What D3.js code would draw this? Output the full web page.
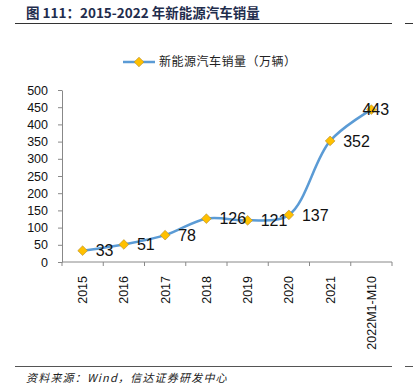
<!DOCTYPE html>
<html>
<head>
<meta charset="utf-8">
<script src="https://cdn.jsdelivr.net/npm/d3@7"></script>
<style>
  body { margin: 0; background: #fff; }
  svg text { font-family: "Liberation Sans", Arial, sans-serif; }
  .cjk { font-family: "Noto Sans CJK SC", sans-serif; }
  .y-axis path, .y-axis line, .x-axis path, .x-axis line { stroke: #888; }
</style>
</head>
<body>
<div id="chart"></div>
<script>
// data
const years = ["2015", "2016", "2017", "2018", "2019", "2020", "2021", "2022M1-M10"];
const sales = [33, 51, 78, 126, 121, 137, 352, 443];
const yTicks = [0, 50, 100, 150, 200, 250, 300, 350, 400, 450, 500];
const labelShift = [0, 0, 0, 0, 0, 0, 0, -22]; // last label pushed back inside the frame

const data = years.map((y, i) => ({year: y, value: sales[i], shift: labelShift[i]}));

const W = 413, H = 392;
const margin = {top: 90, right: 21, bottom: 130, left: 62},
    width = W - margin.left - margin.right,
    height = H - margin.top - margin.bottom;

const svgRoot = d3.select("#chart")
  .append("svg")
    .attr("width", W)
    .attr("height", H);

// title + rules
svgRoot.append("text")
    .attr("class", "cjk")
    .attr("x", 26)
    .attr("y", 18)
    .attr("font-size", 13.5)
    .attr("font-weight", "bold")
    .attr("fill", "#1f2d4d")
    .attr("xml:space", "preserve")
    .text("图 111：2015-2022 年新能源汽车销量");

svgRoot.append("line").attr("x1", 15).attr("x2", 392).attr("y1", 23.5).attr("y2", 23.5)
    .attr("stroke", "#333").attr("stroke-width", 1);
svgRoot.append("line").attr("x1", 405).attr("x2", 413).attr("y1", 23.5).attr("y2", 23.5)
    .attr("stroke", "#333").attr("stroke-width", 1);
svgRoot.append("line").attr("x1", 15).attr("x2", 392).attr("y1", 366.5).attr("y2", 366.5)
    .attr("stroke", "#555").attr("stroke-width", 1);
svgRoot.append("line").attr("x1", 405).attr("x2", 413).attr("y1", 366.5).attr("y2", 366.5)
    .attr("stroke", "#555").attr("stroke-width", 1);

svgRoot.append("text")
    .attr("class", "cjk")
    .attr("x", 26)
    .attr("y", 382)
    .attr("font-size", 11)
    .attr("font-style", "italic")
    .attr("letter-spacing", 1.2)
    .attr("fill", "#222")
    .text("资料来源：Wind，信达证券研发中心");

const svg = svgRoot.append("g")
    .attr("transform", `translate(${margin.left},${margin.top})`);

// scales
const x = d3.scaleBand()
  .domain(years)
  .range([0, width])
  .padding(0);

const y = d3.scaleLinear()
  .domain([0, 500])
  .range([height, 0]);

// y axis
svg.append("g")
    .attr("class", "y-axis")
    .call(d3.axisLeft(y)
      .tickValues(yTicks)
      .tickSizeInner(4)
      .tickSizeOuter(0)
      .tickPadding(10))
    .call(g => g.selectAll("text").attr("font-size", 12.5).attr("fill", "#111").attr("font-family", "Liberation Sans, Arial, sans-serif"));

// x axis (ticks between categories)
const xAxis = svg.append("g")
    .attr("class", "x-axis")
    .attr("transform", `translate(0,${height})`);
xAxis.append("line")
    .attr("x1", 0).attr("x2", width)
    .attr("stroke", "#888");
xAxis.selectAll("line.tk")
  .data(years.concat(["end"]))
  .join("line")
    .attr("class", "tk")
    .attr("x1", (d, i) => i < years.length ? x(d) : width)
    .attr("x2", (d, i) => i < years.length ? x(d) : width)
    .attr("y1", 0).attr("y2", 4)
    .attr("stroke", "#888");
xAxis.selectAll("text")
  .data(years)
  .join("text")
    .attr("transform", d => `translate(${x(d) + x.bandwidth() / 2 + 4.5},14) rotate(-90)`)
    .attr("text-anchor", "end")
    .attr("font-size", 12.5)
    .attr("fill", "#111")
    .text(d => d);

// smooth line
svg.append("path")
    .datum(data)
    .attr("fill", "none")
    .attr("stroke", "#5b9bd5")
    .attr("stroke-width", 2.5)
    .attr("d", d3.line()
      .curve(d3.curveCatmullRom.alpha(0.5))
      .x(d => x(d.year) + x.bandwidth() / 2)
      .y(d => y(d.value)));

// diamond markers
const diamond = d3.symbol().type(d3.symbolDiamond2).size(60);
svg.append("g")
  .selectAll("path")
  .data(data)
  .join("path")
    .attr("d", diamond)
    .attr("transform", d => `translate(${x(d.year) + x.bandwidth() / 2},${y(d.value)})`)
    .attr("fill", "#ffc000")
    .attr("stroke", "#b08a30")
    .attr("stroke-width", 0.6);

// value labels
svg.append("g")
  .selectAll("text")
  .data(data)
  .join("text")
    .attr("x", d => x(d.year) + x.bandwidth() / 2 + 13 + d.shift)
    .attr("y", d => y(d.value))
    .attr("dy", "0.36em")
    .attr("font-size", 16)
    .attr("fill", "#111")
    .text(d => d.value);

// legend
const lg = svgRoot.append("g").attr("transform", "translate(123,62)");
lg.append("line").attr("x1", 0).attr("x2", 32).attr("stroke", "#5b9bd5").attr("stroke-width", 2.5);
lg.append("path").attr("d", diamond).attr("transform", "translate(16,0)")
    .attr("fill", "#ffc000").attr("stroke", "#b08a30").attr("stroke-width", 0.6);
lg.append("text")
    .attr("class", "cjk")
    .attr("x", 36)
    .attr("dy", "0.35em")
    .attr("font-size", 12)
    .attr("letter-spacing", 0.5)
    .attr("fill", "#222")
    .text("新能源汽车销量（万辆）");
</script>
</body>
</html>
